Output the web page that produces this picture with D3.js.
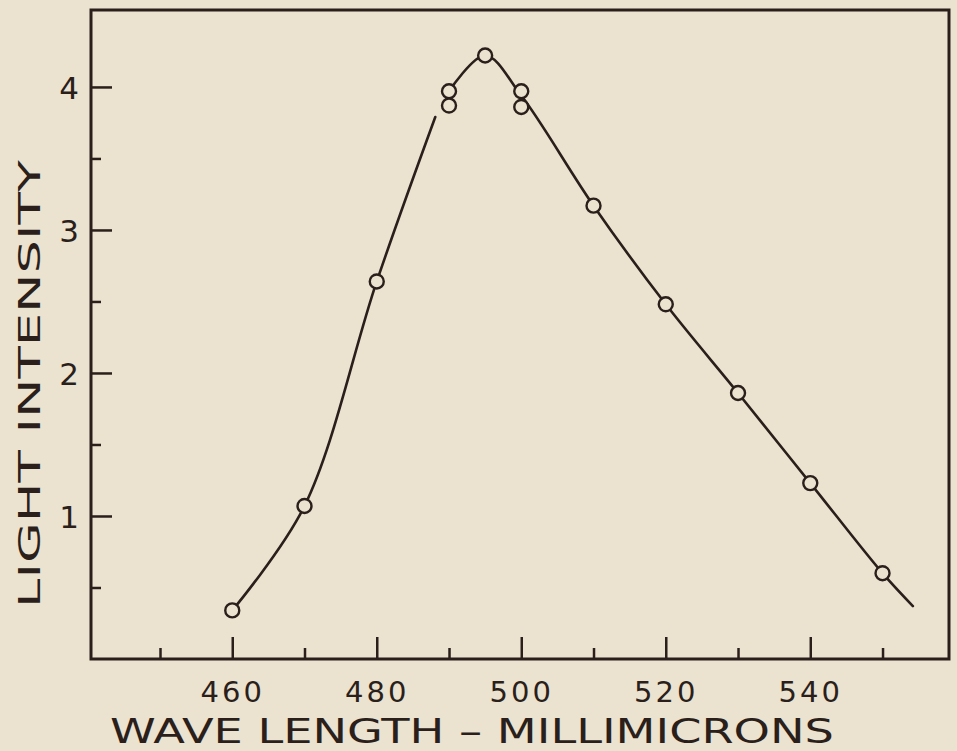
<!DOCTYPE html>
<html><head><meta charset="utf-8">
<script src="https://cdn.jsdelivr.net/npm/d3@7"></script>
<style>
html,body{margin:0;padding:0;background:#ece2d0;}
svg{display:block;}
text{font-family:"DejaVu Sans",sans-serif;fill:#2a1f1a;}
</style></head>
<body>
<svg id="chart" width="957" height="751"></svg>
<script>
// ---- data ----
const wavelengths = [460, 470, 480, 490, 490, 495, 500, 500, 510, 520, 530, 540, 550];
const intensities = [0.34, 1.07, 2.64, 3.97, 3.87, 4.22, 3.97, 3.86, 3.17, 2.48, 1.86, 1.23, 0.60];
// hand-drawn curve: it is broken just below the 490 points
const curveAX = [460, 470, 480, 488.1];
const curveAY = [0.34, 1.07, 2.64, 3.79];
const curveBX = [490, 495, 500, 510, 520, 530, 540, 550, 554.2];
const curveBY = [3.97, 4.22, 3.94, 3.17, 2.48, 1.86, 1.23, 0.60, 0.37];
const xMajorTicks = [460, 480, 500, 520, 540];
const xMinorTicks = [450, 470, 490, 510, 530, 550];
const yMajorTicks = [1, 2, 3, 4];
const yMinorTicks = [0.5, 1.5, 2.5, 3.5];
const xTitle = "WAVE LENGTH – MILLIMICRONS";
const yTitle = "LIGHT INTENSITY";

const ink = "#2a1f1a", bg = "#ece2d0";
const svg = d3.select("#chart");
const L = 91, R = 949, T = 10, B = 659;
const x = d3.scaleLinear().domain([440.45, 559.2]).range([L, R]);
const y = d3.scaleLinear().domain([0, 4.538]).range([B, T]);

// frame
svg.append("rect").attr("x", L).attr("y", T).attr("width", R - L).attr("height", B - T)
  .attr("fill", "none").attr("stroke", ink).attr("stroke-width", 3);

// x axis ticks (inward)
const xAxisMaj = d3.axisBottom(x).tickValues(xMajorTicks).tickSizeInner(-22).tickSizeOuter(0).tickFormat(d3.format("d"));
const gx = svg.append("g").attr("transform", `translate(0,${B})`).call(xAxisMaj);
gx.select(".domain").remove();
gx.selectAll("line").attr("stroke", ink).attr("stroke-width", 2.5);
gx.selectAll("text").attr("font-size", 29).attr("letter-spacing", 3).attr("dy", "0.65em").attr("fill", ink).attr("y", 24);
const xAxisMin = d3.axisBottom(x).tickValues(xMinorTicks).tickSizeInner(-11).tickSizeOuter(0).tickFormat("");
const gx2 = svg.append("g").attr("transform", `translate(0,${B})`).call(xAxisMin);
gx2.select(".domain").remove();
gx2.selectAll("line").attr("stroke", ink).attr("stroke-width", 2.5);

// y axis ticks (inward)
const yAxisMaj = d3.axisLeft(y).tickValues(yMajorTicks).tickSizeInner(-21).tickSizeOuter(0).tickFormat(d3.format("d"));
const gy = svg.append("g").attr("transform", `translate(${L},0)`).call(yAxisMaj);
gy.select(".domain").remove();
gy.selectAll("line").attr("stroke", ink).attr("stroke-width", 2.5);
gy.selectAll("text").attr("font-size", 31).attr("fill", ink).attr("x", -12).attr("dy", "0.36em");
const yAxisMin = d3.axisLeft(y).tickValues(yMinorTicks).tickSizeInner(-10).tickSizeOuter(0).tickFormat("");
const gy2 = svg.append("g").attr("transform", `translate(${L},0)`).call(yAxisMin);
gy2.select(".domain").remove();
gy2.selectAll("line").attr("stroke", ink).attr("stroke-width", 2.5);

// curve segments
const line = d3.line().x(d => x(d[0])).y(d => y(d[1])).curve(d3.curveCatmullRom.alpha(0.5));
[[curveAX, curveAY], [curveBX, curveBY]].forEach(([cx, cy]) => {
  svg.append("path").attr("d", line(cx.map((d, i) => [d, cy[i]])))
    .attr("fill", "none").attr("stroke", ink).attr("stroke-width", 2.6)
    .attr("stroke-linejoin", "round").attr("stroke-linecap", "round");
});

// observation circles
svg.append("g").selectAll("circle").data(wavelengths.map((d, i) => [d, intensities[i]]))
  .join("circle").attr("cx", d => x(d[0])).attr("cy", d => y(d[1])).attr("r", 7)
  .attr("fill", bg).attr("stroke", ink).attr("stroke-width", 2.4);

// titles
svg.append("text").attr("x", 472).attr("y", 743).attr("text-anchor", "middle")
  .attr("font-size", 34).attr("textLength", 724).attr("lengthAdjust", "spacingAndGlyphs").text(xTitle);
svg.append("text").attr("transform", "translate(40,384) rotate(-90)").attr("text-anchor", "middle")
  .attr("font-size", 31).attr("textLength", 448).attr("lengthAdjust", "spacingAndGlyphs").text(yTitle);
</script>
</body></html>
